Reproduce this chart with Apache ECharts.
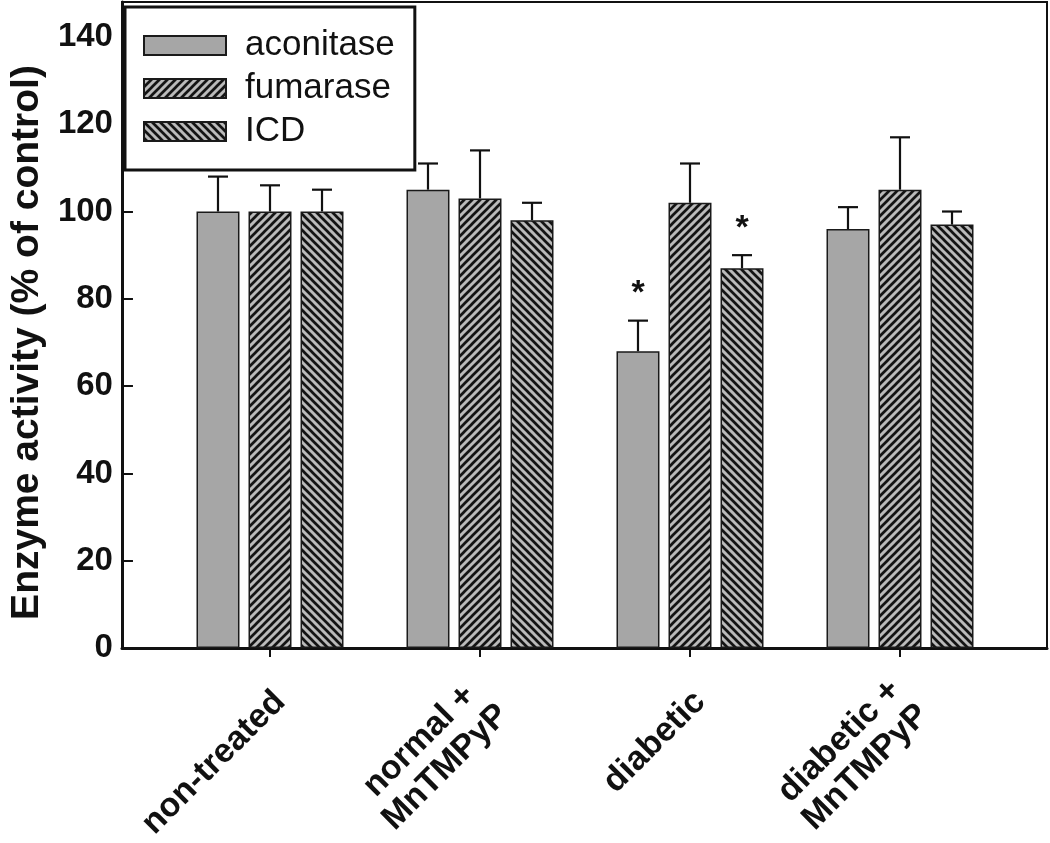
<!DOCTYPE html>
<html>
<head>
<meta charset="utf-8">
<script src="https://cdn.jsdelivr.net/npm/echarts@6/dist/echarts.min.js"></script>
<style>
html,body{margin:0;padding:0;background:#fff;}
#chart{width:1050px;height:843px;}
</style>
</head>
<body>
<div id="chart"></div>
<script>
// ---- data ----
const categories = ['non-treated', 'normal +\nMnTMPyP', 'diabetic', 'diabetic +\nMnTMPyP'];
const seriesNames = ['aconitase', 'fumarase', 'ICD'];
const aconitase = [100, 105, 68, 96];
const aconitaseErr = [8, 6, 7, 5];
const aconitaseSig = [0, 0, 1, 0];
const fumarase = [100, 103, 102, 105];
const fumaraseErr = [6, 11, 9, 12];
const fumaraseSig = [0, 0, 0, 0];
const icd = [100, 98, 87, 97];
const icdErr = [5, 4, 3, 3];
const icdSig = [0, 0, 1, 0];
const yTicks = [0, 20, 40, 60, 80, 100, 120, 140];

// ---- styles ----
const FONT = "'Liberation Sans', Arial, sans-serif";
const BAR_GAP = 0.21, CAT_GAP = 0.30;

function hatch(dir) {
  const s = 8;
  const c = document.createElement('canvas');
  c.width = s; c.height = s;
  const g = c.getContext('2d');
  g.fillStyle = '#bababa';
  g.fillRect(0, 0, s, s);
  g.strokeStyle = '#141414';
  g.lineWidth = 2.7;
  g.beginPath();
  if (dir === '/') {
    g.moveTo(-2, s + 2); g.lineTo(s + 2, -2);
    g.moveTo(-2, 2); g.lineTo(2, -2);
    g.moveTo(s - 2, s + 2); g.lineTo(s + 2, s - 2);
  } else {
    g.moveTo(-2, -2); g.lineTo(s + 2, s + 2);
    g.moveTo(s - 2, -2); g.lineTo(s + 2, 2);
    g.moveTo(-2, s - 2); g.lineTo(2, s + 2);
  }
  g.stroke();
  return { image: c, repeat: 'repeat' };
}

const fills = ['#a6a6a6', hatch('/'), hatch('\\')];
const values = [aconitase, fumarase, icd];
const errs = [aconitaseErr, fumaraseErr, icdErr];
const sigs = [aconitaseSig, fumaraseSig, icdSig];

const barSeries = seriesNames.map((name, k) => ({
  name: name,
  type: 'bar',
  xAxisIndex: 1,
  yAxisIndex: 1,
  data: values[k],
  barGap: (BAR_GAP * 100) + '%',
  barCategoryGap: (CAT_GAP * 100) + '%',
  itemStyle: { color: fills[k], borderColor: '#1a1a1a', borderWidth: 1.5 },
  emphasis: { disabled: true },
  z: 2
}));

const errSeries = seriesNames.map((name, k) => ({
  type: 'custom',
  xAxisIndex: 1,
  yAxisIndex: 1,
  z: 3,
  silent: true,
  data: values[k].map((v, i) => [i, v, errs[k][i], sigs[k][i]]),
  encode: { x: 0, y: 1 },
  renderItem: function (params, api) {
    const i = api.value(0), v = api.value(1), e = api.value(2), sig = api.value(3);
    const band = api.size([1, 0])[0];
    const bw = band * (1 - CAT_GAP) / (3 + 2 * BAR_GAP);
    const x = api.coord([i, v])[0] + (k - 1) * bw * (1 + BAR_GAP);
    const y0 = api.coord([i, v])[1];
    const y1 = api.coord([i, v + e])[1];
    const ls = { stroke: '#111', lineWidth: 2.2 };
    const children = [
      { type: 'line', shape: { x1: x, y1: y0, x2: x, y2: y1 }, style: ls },
      { type: 'line', shape: { x1: x - 10, y1: y1, x2: x + 10, y2: y1 }, style: ls }
    ];
    if (sig) {
      children.push({
        type: 'text',
        style: { text: '*', x: x, y: y1 - 27, align: 'center', verticalAlign: 'middle',
                 font: 'bold 34px ' + FONT, fill: '#111' }
      });
    }
    return { type: 'group', children: children };
  }
}));

const chart = echarts.init(document.getElementById('chart'), null, { renderer: 'canvas' });
chart.setOption({
  animation: false,
  backgroundColor: '#fff',
  legend: {
    data: seriesNames,
    orient: 'vertical',
    left: 125,
    top: 7,
    padding: [21, 20, 21, 18],
    itemGap: 8,
    itemWidth: 82,
    itemHeight: 19,
    borderColor: '#111',
    borderWidth: 3,
    backgroundColor: '#fff',
    icon: 'rect',
    selectedMode: false,
    textStyle: { fontSize: 35, fontFamily: FONT, color: '#111', padding: [0, 0, 0, 14] },
    z: 10
  },
  grid: [
    { left: 122, right: 3, top: 2, bottom: 195, show: true, borderColor: '#111', borderWidth: 2, backgroundColor: 'transparent' },
    { left: 165, right: 45, top: 2, bottom: 195 },
    { left: 175, right: 35, top: 2, bottom: 195 },
    { left: 122, right: 3, top: 37, bottom: 195 }
  ],
  xAxis: [
    { gridIndex: 0, type: 'category', data: categories, axisLine: { show: true, lineStyle: { color: '#111', width: 3 } },
      axisTick: { show: false }, axisLabel: { show: false }, splitLine: { show: false } },
    { gridIndex: 1, type: 'category', data: categories, axisLine: { show: false },
      axisTick: { show: true, alignWithLabel: true, length: 9, inside: false, lineStyle: { color: '#111', width: 2 } },
      axisLabel: { show: false }, splitLine: { show: false } },
    { gridIndex: 2, type: 'category', data: categories, axisLine: { show: false }, axisTick: { show: false },
      splitLine: { show: false },
      axisLabel: {
        show: true, rotate: 45, margin: 54, interval: 0,
        formatter: v => v.split('\n').map(s => '{c|' + s + '}').join('\n'),
        rich: { c: { align: 'center', fontSize: 34, fontWeight: 'bold', fontFamily: FONT, color: '#111', lineHeight: 37 } }
      } },
    { gridIndex: 3, type: 'category', data: categories, show: false }
  ],
  yAxis: [
    { gridIndex: 0, type: 'value', min: 0, max: 148, axisLine: { show: true, lineStyle: { color: '#111', width: 3 } },
      axisTick: { show: false }, axisLabel: { show: false }, splitLine: { show: false } },
    { gridIndex: 1, type: 'value', min: 0, max: 148, show: false, splitLine: { show: false } },
    { gridIndex: 2, type: 'value', min: 0, max: 148, show: false, splitLine: { show: false } },
    { gridIndex: 3, type: 'value', min: yTicks[0], max: yTicks[yTicks.length - 1], interval: 20,
      axisLine: { show: false },
      axisTick: { show: true, length: 10, lineStyle: { color: '#111', width: 2 } },
      splitLine: { show: false },
      axisLabel: { margin: 20, fontSize: 33, fontWeight: 'bold', fontFamily: FONT, color: '#111' },
      name: 'Enzyme activity (% of control)',
      nameLocation: 'middle',
      nameRotate: 90,
      nameGap: 80,
      nameTextStyle: { fontSize: 39, fontWeight: 'bold', fontFamily: FONT, color: '#111' } }
  ],
  series: barSeries.concat(errSeries)
});
</script>
</body>
</html>
